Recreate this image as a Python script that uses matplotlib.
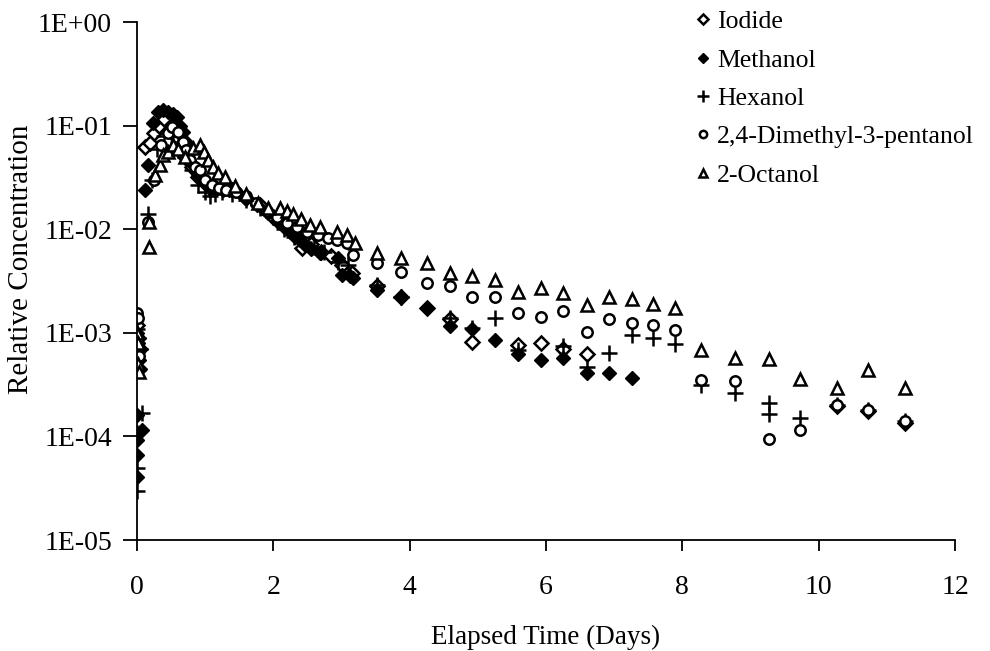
import matplotlib
matplotlib.use("Agg")
import matplotlib.pyplot as plt
from matplotlib.ticker import FixedLocator, FuncFormatter, NullLocator
import numpy as np

plt.rcParams['font.family'] = ['Liberation Serif', 'DejaVu Serif']

# ---- data ----
iodide_t = [0, 0.02, 0.04, 0.12, 0.19, 0.25, 0.32, 0.4, 0.5, 0.6, 0.7, 0.8, 0.9, 1.0, 1.1,
            1.25, 1.4, 1.6, 1.8, 2.0, 2.15, 2.3, 2.42, 2.55, 2.7, 2.85, 3.0, 3.15, 3.52, 3.87,
            4.25, 4.59, 4.91, 5.59, 5.93, 6.25, 6.6, 10.27, 10.72, 11.27]
iodide_c = [1.2e-3, 9e-4, 7e-4, 0.062, 0.068, 0.085, 0.10, 0.115, 0.1, 0.075, 0.05, 0.04, 0.032,
            0.028, 0.026, 0.025, 0.024, 0.02, 0.017, 0.013, 0.011, 0.009, 0.0066, 0.0072, 0.006,
            0.0055, 0.0045, 0.0038, 2.8e-3, 2.2e-3, 1.75e-3, 1.35e-3, 8.2e-4, 7.6e-4, 7.9e-4,
            7.0e-4, 6.3e-4, 1.95e-4, 1.75e-4, 1.35e-4]

methanol_t = [0, 0.01, 0.02, 0.03, 0.04, 0.0, 0.0, 0.0, 0.0, 0.08, 0.12, 0.16, 0.24, 0.31, 0.38,
              0.45, 0.53, 0.58, 0.63, 0.67, 0.72, 0.78, 0.82, 0.88, 0.92, 0.98, 1.03, 1.1, 1.17,
              1.26, 1.35, 1.44, 1.58, 1.76, 1.92, 2.05, 2.15, 2.25, 2.32, 2.39, 2.47, 2.55, 2.68,
              2.95, 3.0, 3.12, 3.17, 3.52, 3.87, 4.25, 4.59, 4.91, 5.25, 5.59, 5.93, 6.25, 6.6,
              6.92, 7.26]
methanol_c = [1e-3, 8e-4, 6.5e-4, 5.5e-4, 4.5e-4, 1.6e-4, 9.3e-5, 6.6e-5, 4.1e-5, 1.15e-4, 0.024,
              0.042, 0.106, 0.135, 0.14, 0.135, 0.13, 0.12, 0.1, 0.087, 0.07, 0.056, 0.042, 0.036,
              0.031, 0.029, 0.027, 0.026, 0.025, 0.024, 0.024, 0.024, 0.02, 0.017, 0.0144, 0.012,
              0.0105, 0.0095, 0.0085, 0.0078, 0.007, 0.0065, 0.0059, 0.0053, 0.0036, 0.0035,
              0.0034, 2.6e-3, 2.2e-3, 1.74e-3, 1.17e-3, 1.1e-3, 8.5e-4, 6.2e-4, 5.5e-4, 5.7e-4,
              4.1e-4, 4.1e-4, 3.7e-4]

hexanol_t = [0, 0.02, 0.04, 0.0, 0.0, 0.0, 0.07, 0.16, 0.22, 0.3, 0.4, 0.5, 0.6, 0.7, 0.8, 0.9,
             1.0, 1.07, 1.15, 1.25, 1.4, 1.6, 1.8, 2.0, 2.15, 2.3, 2.45, 2.6, 2.75, 2.95, 3.1,
             3.52, 3.87, 4.59, 4.91, 5.25, 5.59, 6.25, 6.6, 6.92, 7.26, 7.57, 7.89, 8.27, 8.77,
             9.27, 9.27, 9.73, 10.27, 10.72, 11.27]
hexanol_c = [1.1e-3, 9e-4, 7e-4, 1.07e-4, 5e-5, 3e-5, 1.7e-4, 0.014, 0.03, 0.06, 0.08, 0.09, 0.07,
             0.05, 0.037, 0.027, 0.023, 0.021, 0.022, 0.023, 0.022, 0.019, 0.016, 0.013, 0.01,
             0.0085, 0.0075, 0.0068, 0.006, 0.0048, 0.0045, 2.9e-3, 2.2e-3, 1.39e-3, 1.11e-3,
             1.39e-3, 6.8e-4, 7.4e-4, 4.7e-4, 6.4e-4, 9.5e-4, 8.9e-4, 7.8e-4, 3.1e-4, 2.6e-4,
             2.1e-4, 1.65e-4, 1.5e-4, 2.0e-4, 1.8e-4, 1.4e-4]

dmp_t = [0, 0.02, 0.01, 0.03, 0.16, 0.25, 0.35, 0.45, 0.51, 0.6, 0.67, 0.72, 0.78, 0.85, 0.92,
         1.0, 1.1, 1.2, 1.3, 1.45, 1.6, 1.75, 1.9, 2.05, 2.2, 2.35, 2.5, 2.65, 2.8, 2.93, 3.08,
         3.17, 3.52, 3.87, 4.25, 4.59, 4.91, 5.25, 5.59, 5.93, 6.25, 6.6, 6.92, 7.26, 7.57, 7.89,
         8.27, 8.77, 9.27, 9.73, 10.27, 10.72, 11.27]
dmp_c = [1.55e-3, 1.4e-3, 9e-4, 6e-4, 0.0117, 0.03, 0.065, 0.085, 0.097, 0.087, 0.07, 0.058,
         0.047, 0.04, 0.037, 0.03, 0.027, 0.025, 0.024, 0.023, 0.021, 0.018, 0.015, 0.013, 0.0115,
         0.0105, 0.0095, 0.0088, 0.0082, 0.0078, 0.0074, 0.0056, 4.7e-3, 3.9e-3, 3.0e-3, 2.8e-3,
         2.2e-3, 2.2e-3, 1.55e-3, 1.42e-3, 1.62e-3, 1.02e-3, 1.36e-3, 1.24e-3, 1.19e-3, 1.07e-3,
         3.5e-4, 3.4e-4, 9.5e-5, 1.15e-4, 2.0e-4, 1.8e-4, 1.4e-4]

octanol_t = [0, 0.02, 0.01, 0.03, 0.17, 0.17, 0.26, 0.34, 0.38, 0.45, 0.53, 0.6, 0.7, 0.82, 0.92,
             0.98, 1.04, 1.11, 1.19, 1.29, 1.44, 1.6, 1.77, 1.92, 2.1, 2.2, 2.29, 2.4, 2.54, 2.68,
             2.93, 3.08, 3.2, 3.52, 3.87, 4.25, 4.59, 4.91, 5.25, 5.59, 5.93, 6.25, 6.6, 6.92,
             7.26, 7.57, 7.89, 8.27, 8.77, 9.27, 9.73, 10.27, 10.72, 11.27]
octanol_c = [1e-3, 8e-4, 5e-4, 4.2e-4, 0.0117, 0.0068, 0.033, 0.042, 0.052, 0.056, 0.065, 0.06,
             0.05, 0.061, 0.065, 0.055, 0.047, 0.04, 0.035, 0.032, 0.026, 0.022, 0.018, 0.016,
             0.016, 0.015, 0.014, 0.0125, 0.011, 0.0105, 0.0094, 0.0088, 0.0074, 5.9e-3, 5.3e-3,
             4.7e-3, 3.8e-3, 3.5e-3, 3.2e-3, 2.5e-3, 2.7e-3, 2.4e-3, 1.86e-3, 2.2e-3, 2.1e-3,
             1.9e-3, 1.74e-3, 6.8e-4, 5.7e-4, 5.6e-4, 3.6e-4, 2.9e-4, 4.4e-4, 2.9e-4]

labels = ["Iodide", "Methanol", "Hexanol", "2,4-Dimethyl-3-pentanol", "2-Octanol"]
x_ticks = [0, 2, 4, 6, 8, 10, 12]
y_ticks = [1e-5, 1e-4, 1e-3, 1e-2, 1e-1, 1e0]

# ---- figure ----
fig = plt.figure(figsize=(9.9, 6.51), dpi=100)
ax = fig.add_axes([137/990, 1 - 540/651, (955 - 137)/990, (540 - 22)/651])

series = [
    (iodide_t, iodide_c, dict(marker='D', mfc='white', mec='black', ms=7, mew=1.8)),
    (methanol_t, methanol_c, dict(marker='D', mfc='black', mec='black', ms=7.5, mew=1.0)),
    (hexanol_t, hexanol_c, dict(marker='+', color='black', ms=12, mew=1.8)),
    (dmp_t, dmp_c, dict(marker='o', mfc='white', mec='black', ms=7.5, mew=1.8)),
    (octanol_t, octanol_c, dict(marker='^', mfc='white', mec='black', ms=9, mew=1.8)),
]
handles = []
for (t, c, st), lab in zip(series, labels):
    h, = ax.plot(t, c, linestyle='none', label=lab, **st)
    handles.append(h)

ax.set_yscale('log')
ax.set_xlim(0, 12)
ax.set_ylim(1e-5, 1)
ax.xaxis.set_major_locator(FixedLocator(x_ticks))
ax.yaxis.set_major_locator(FixedLocator(y_ticks))
ax.yaxis.set_minor_locator(NullLocator())
ax.xaxis.set_major_formatter(FuncFormatter(lambda v, p: f"{int(v)}"))

def efmt(v, p):
    e = int(round(np.log10(v)))
    return "1E%s%02d" % ('+' if e >= 0 else '-', abs(e))
ax.yaxis.set_major_formatter(FuncFormatter(efmt))

for s in ['top', 'right']:
    ax.spines[s].set_visible(False)
for s in ['left', 'bottom']:
    ax.spines[s].set_linewidth(1.3)
ax.tick_params(axis='y', direction='out', length=10, width=1.3, labelsize=20, pad=8)
ax.tick_params(axis='x', direction='out', length=8, width=1.3, labelsize=20, pad=17)

ax.set_xlabel("Elapsed Time (Days)", fontsize=19.5, labelpad=18)
ax.set_ylabel("Relative Concentration", fontsize=21)
ax.yaxis.set_label_coords((34 - 137) / 818, (540 - 259) / 518)

fig.legend(handles=handles, labels=labels, loc='upper left', bbox_to_anchor=(0.692, 1.0),
           frameon=False, fontsize=18.5, markerscale=0.7, handlelength=0.6,
           handletextpad=0.25, labelspacing=0.6, borderaxespad=0)

fig.savefig("out.png", dpi=100)
